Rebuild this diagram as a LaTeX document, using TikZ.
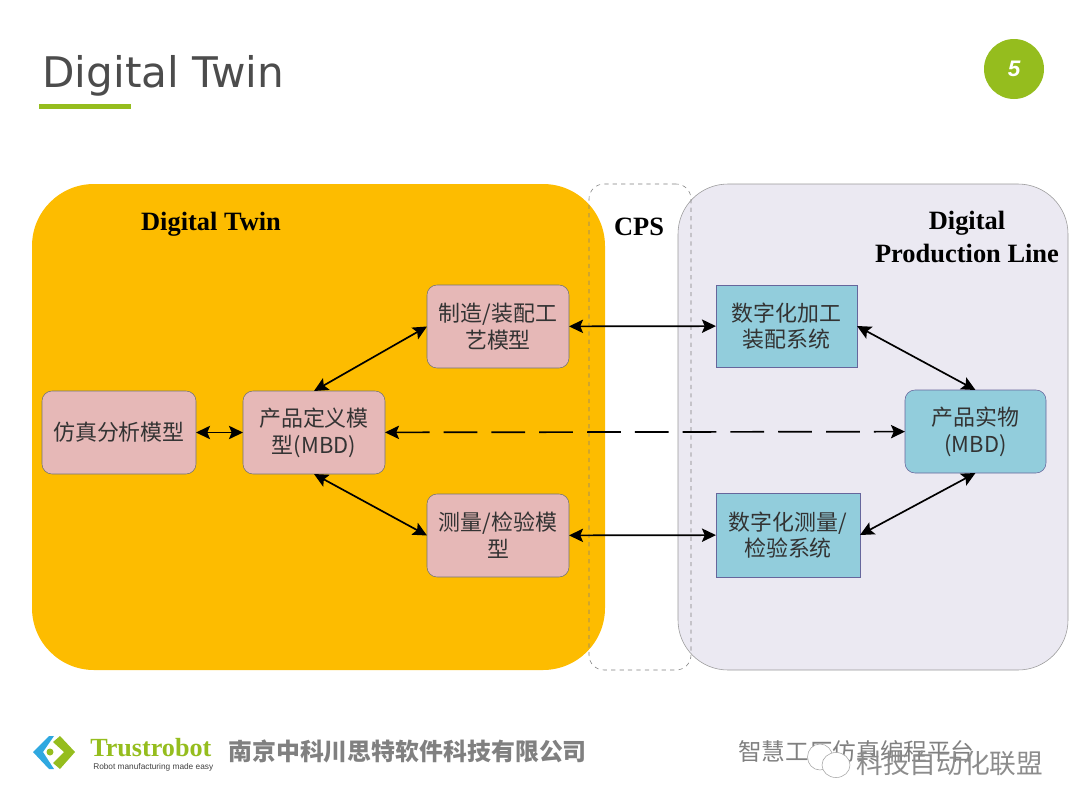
\documentclass[tikz,border=0pt]{standalone}
\usepackage{fontspec}
\setmainfont{Liberation Serif}
\newfontfamily\cjk{Noto Sans CJK SC}
\newfontfamily\titlefont{DejaVu Sans}
\newfontfamily\logofont{Liberation Sans}
\usetikzlibrary{arrows.meta,positioning,calc}
\definecolor{panelorange}{HTML}{FDBC00}
\definecolor{panelgrey}{HTML}{EBE9F2}
\definecolor{pinkbox}{HTML}{E6B8B7}
\definecolor{tealbox}{HTML}{92CDDC}
\definecolor{limegreen}{HTML}{95BD1E}
\definecolor{logoblue}{HTML}{2FA8E0}
\tikzset{
  panel/.style={rounded corners=50\pxu,outer sep=0pt,inner sep=0pt},
  modelbox/.style={draw=black!55,fill=pinkbox,rounded corners=10\pxu,align=center,outer sep=0pt,inner sep=0pt,font=\cjk\fontsize{15.6}{19}\selectfont,text=black!80},
  systembox/.style={modelbox,fill=tealbox,draw=blue!35!black!60,rounded corners=0pt},
  heading/.style={align=center,font=\bfseries\fontsize{18.8}{23}\selectfont,inner sep=0pt},
  twoway/.style={{Stealth[length=10pt,width=9.5pt,inset=2pt]}-{Stealth[length=10pt,width=9.5pt,inset=2pt]},line width=1.2pt},
  footer/.style={inner sep=0pt,anchor=west,text=black!50}
}
\newlength{\pxu}
\setlength{\pxu}{0.025cm}
\begin{document}
\begin{tikzpicture}[x=0.025cm,y=-0.025cm]
  \useasboundingbox (0,0) rectangle (1080,810);
  % title
  \node[inner sep=0pt,anchor=west,text=black!70,font=\titlefont\fontsize{30}{34}\selectfont] (title) at (42,76) {Digital Twin};
  \fill[limegreen] (39,103.5) rectangle (131,109);
  \node[circle,fill=limegreen,minimum size=60\pxu,inner sep=0pt,text=white,font=\bfseries\itshape\logofont\fontsize{16}{16}\selectfont] (page) at (1014,69) {5};
  % panels
  \node[panel,fill=panelorange,minimum width=573\pxu,minimum height=486\pxu,rounded corners=62\pxu] (twin) at (318.5,427) {};
  \node[panel,fill=panelgrey,draw=black!40,minimum width=390\pxu,minimum height=486\pxu] (line) at (873,427) {};
  \node[panel,draw=black!50,dashed,line width=0.4pt,minimum width=102\pxu,minimum height=486\pxu,rounded corners=15\pxu] (cps) at (640,427) {};
  \node[heading] (twinlabel) at (211,224) {Digital Twin};
  \node[heading] (cpslabel) at (639,227) {CPS};
  \node[heading] (linelabel) at (967,237) {Digital\\Production Line};
  % boxes
  \node[modelbox,minimum width=154\pxu,minimum height=83\pxu] (sim) at (119,432.5) {仿真分析模型};
  \node[modelbox,minimum width=142\pxu,minimum height=83\pxu] (mbd) at (314,432.5) {产品定义模\\型(MBD)};
  \node[modelbox,minimum width=142\pxu,minimum height=83\pxu] (craft) at (498,326.5) {制造/装配工\\艺模型};
  \node[modelbox,minimum width=142\pxu,minimum height=83\pxu] (measure) at (498,535.5) {测量/检验模\\型};
  \node[systembox,minimum width=141\pxu,minimum height=82\pxu] (assembly) at (786.5,326) {数字化加工\\装配系统};
  \node[systembox,minimum width=144\pxu,minimum height=84\pxu] (inspect) at (788,535) {数字化测量/\\检验系统};
  \node[systembox,rounded corners=10\pxu,minimum width=141\pxu,minimum height=83\pxu] (product) at (975.5,431.5) {产品实物\\(MBD)};
  % connectors
  \draw[twoway] (sim)--(mbd);
  \draw[twoway] (mbd.north)--(craft.west);
  \draw[twoway] (mbd.south)--(measure.west);
  \draw[twoway] (craft)--(assembly);
  \draw[twoway] (measure)--(inspect);
  \draw[twoway] (assembly.east)--(product.north);
  \draw[twoway] (inspect.east)--(product.south);
  \draw[twoway,dash pattern=on 24pt off 10pt] (mbd)--(product);
  % footer logo
  \fill[logoblue] (33,752) -- (49,736) -- (54,736) -- (43,752) -- (54,769) -- (49,769) -- cycle;
  \fill[limegreen] (60,736) -- (75,752) -- (60,769) -- (53,763) -- (64,752) -- (53,742) -- cycle;
  \fill[limegreen] (50,752) circle (3.5);
  \node[footer,text=limegreen,font=\bfseries\fontsize{18.6}{19}\selectfont] (brand) at (90,747.5) {Trustrobot};
  \node[footer,text=black!75,font=\logofont\fontsize{5.9}{7}\selectfont] (slogan) at (93,767) {Robot manufacturing made easy};
  \node[footer,font=\cjk\bfseries\fontsize{17}{18}\selectfont] (company) at (228,751) {南京中科川思特软件科技有限公司};
  \node[footer,font=\cjk\fontsize{16.8}{18}\selectfont] (platform) at (738,751) {智慧工厂仿真编程平台};
  % watermark
  \node[footer,text=black!45,font=\cjk\fontsize{19}{20}\selectfont] (mark) at (856,763) {科技自动化联盟};
  \draw[black!35,fill=white] (820,757) ellipse (12.5 and 13);
  \draw[black!35,fill=white] (836,765) ellipse (14 and 12.5);
\end{tikzpicture}
\end{document}
